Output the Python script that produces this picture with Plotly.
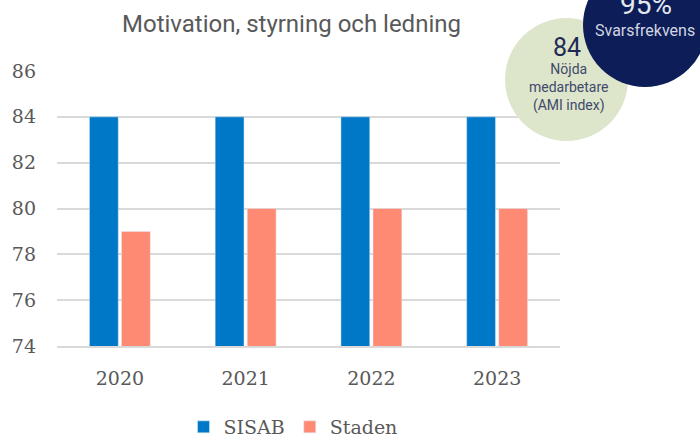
import plotly.graph_objects as go

years = ["2020", "2021", "2022", "2023"]
sisab = [84, 84, 84, 84]
staden = [79, 80, 80, 80]
y_ticks = [74, 76, 78, 80, 82, 84, 86]

W, H = 700, 437
# plot area in page pixels (reference): x 57..560, y 71..346
PL, PR, PT, PB = 57, 560, 71, 346
L, R, T, B = PL, W - PR, PT, H - PB
PW, PH = W - L - R, H - T - B

def px(x):
    return (x - L) / PW

def py(y):
    return (H - B - y) / PH

fig = go.Figure()
fig.add_bar(x=years, y=sisab, name="SISAB", marker_color="#0078C8")
fig.add_bar(x=years, y=staden, name="Staden", marker_color="#FF8A73")

tick_font = dict(family="Roboto Slab, DejaVu Serif, serif", size=19, color="#595959")

fig.update_layout(
    width=W, height=H,
    margin=dict(l=L, r=R, t=T, b=B, autoexpand=False),
    plot_bgcolor="white", paper_bgcolor="white",
    barmode="group", bargap=0.49, bargroupgap=0.1,
    showlegend=True,
    legend=dict(orientation="h", x=px(293), xanchor="center", y=py(427), yanchor="middle",
                font=dict(family="Roboto Slab, DejaVu Serif, serif", size=19, color="#595959"),
                itemwidth=30, traceorder="normal"),
    xaxis=dict(showgrid=False, showline=True, linecolor="#d9d9d9", linewidth=2,
               tickfont=tick_font, ticks="", ticklabelstandoff=14, automargin=False),
    yaxis=dict(range=[74, 86], tickvals=y_ticks, showgrid=True, gridcolor="#d9d9d9", gridwidth=1.5,
               zeroline=False, showline=False, tickfont=tick_font, ticks="", ticklabelstandoff=20,
               automargin=False),
)

fig.add_annotation(text="Motivation, styrning och ledning", xref="paper", yref="paper",
                   x=px(291.5), y=py(24), showarrow=False, xanchor="center", yanchor="middle",
                   font=dict(family="Roboto, sans-serif", size=24, color="#595959"))

# circles
fig.add_shape(type="circle", xref="paper", yref="paper", layer="above",
              x0=px(505), x1=px(628), y0=py(141), y1=py(18),
              fillcolor="#DDE5CB", line=dict(width=0))
fig.add_shape(type="circle", xref="paper", yref="paper", layer="above",
              x0=px(583), x1=px(707), y0=py(87), y1=py(-37),
              fillcolor="#0D1D57", line=dict(width=0))

fig.add_annotation(text="84", xref="paper", yref="paper", x=px(567), y=py(47), showarrow=False,
                   xanchor="center", yanchor="middle",
                   font=dict(family="Roboto, sans-serif", size=25, color="#1F2B55"))
fig.add_annotation(text="Nöjda<br>medarbetare<br>(AMI index)", xref="paper", yref="paper",
                   x=px(568), y=py(88), showarrow=False, xanchor="center", yanchor="middle",
                   font=dict(family="Roboto, sans-serif", size=14, color="#3F4A6B"))
fig.add_annotation(text="95%", xref="paper", yref="paper", x=px(646), y=py(4), showarrow=False,
                   xanchor="center", yanchor="middle",
                   font=dict(family="Roboto, sans-serif", size=28, color="#E6E8F0"))
fig.add_annotation(text="Svarsfrekvens", xref="paper", yref="paper", x=px(645), y=py(31),
                   showarrow=False, xanchor="center", yanchor="middle",
                   font=dict(family="Roboto, sans-serif", size=16, color="#D0D5E3"))

fig.write_html("out.html", config={"displayModeBar": False},
               post_script="document.body.style.margin='0';document.body.style.overflow='hidden';")
